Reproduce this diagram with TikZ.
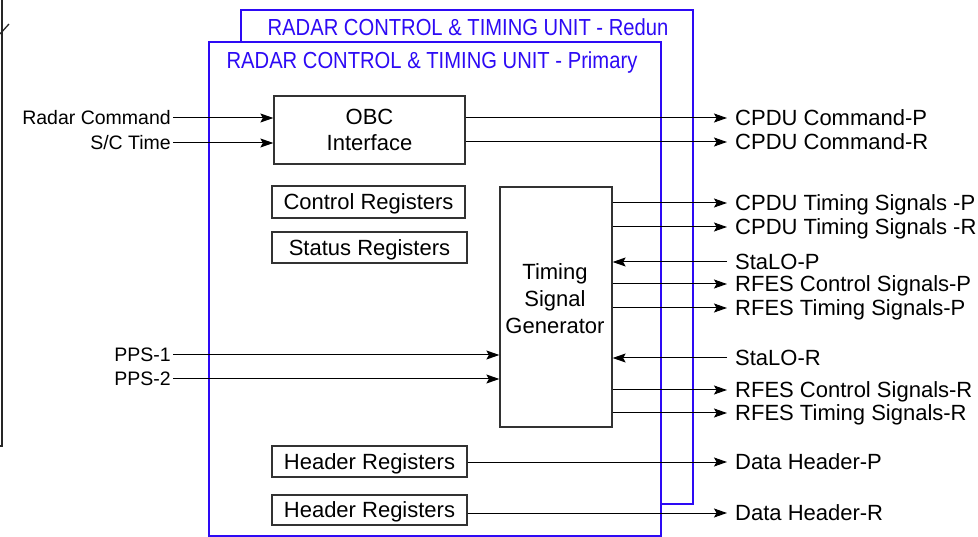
\documentclass[tikz,border=0pt]{standalone}
\usepackage{fontspec}
\usepackage{graphicx}
\setmainfont{Liberation Sans}
\usetikzlibrary{arrows.meta}
\definecolor{unitblue}{RGB}{45,10,245}
\definecolor{boxgray}{RGB}{50,50,50}
\tikzset{
  arr/.style={draw=black, line width=1pt, -{Stealth[length=13pt,width=9pt,inset=2.5pt]}},
  unitbox/.style={draw=unitblue, line width=2pt, fill=white, inner sep=0pt},
  regbox/.style={draw=boxgray, line width=1.3pt, inner sep=0pt, font=\fontsize{22}{26}\selectfont, align=center},
  onerow/.style={text height=15.8pt, text depth=0pt},
  rlabel/.style={anchor=west, inner sep=0pt, text height=15.8pt, text depth=0pt, font=\fontsize{22}{26}\selectfont},
  llabel/.style={anchor=east, inner sep=0pt, text height=14pt, text depth=0pt, font=\fontsize{19.5}{23}\selectfont},
  titletext/.style={inner sep=0pt, text=unitblue, font=\fontsize{20.2}{24}\selectfont}
}
\begin{document}
\begin{tikzpicture}[x=1pt,y=-1pt]
\useasboundingbox (0,0) rectangle (978,537);
% outer frame edge at left
\draw[line width=1.8pt, color=black!85] (2,0) -- (2,446) -- (0,446);
\draw[line width=1.3pt, color=black!85] (0,34) -- (9,24);
% unit boxes
\node[unitbox, minimum width=452pt, minimum height=494pt] (redun) at (467,257) {};
\node[unitbox, minimum width=452pt, minimum height=494pt] (prim) at (435,289) {};
\node[titletext] (redtitle) at (468,27) {\scalebox{1}[1.15]{RADAR CONTROL \& TIMING UNIT - Redun}};
\node[titletext] (primtitle) at (432,62) {\scalebox{1}[1.15]{RADAR CONTROL \& TIMING UNIT - Primary}};
% inner boxes
\node[regbox, minimum width=191pt, minimum height=68pt] (obc) at (369.5,130) {OBC\\Interface};
\node[regbox, onerow, minimum width=193pt, minimum height=32pt] (ctrl) at (368.5,202) {Control Registers};
\node[regbox, onerow, minimum width=195pt, minimum height=31pt] (stat) at (369.5,247.5) {Status Registers};
\node[regbox, minimum width=112pt, minimum height=240pt] (tsg) at (556,307) {};
\node[inner sep=0pt, align=center, font=\fontsize{22}{27}\selectfont] (tsgtext) at (555,299) {Timing\\Signal\\Generator};
\node[regbox, onerow, minimum width=195pt, minimum height=31pt] (hdr1) at (369.5,461.5) {Header Registers};
\node[regbox, onerow, minimum width=195pt, minimum height=30pt] (hdr2) at (369.5,510) {Header Registers};
% left labels
\node[llabel] (radar) at (171,118) {Radar Command};
\node[llabel] (sctime) at (171,143) {S/C Time};
\node[llabel] (pps1) at (171,355) {PPS-1};
\node[llabel] (pps2) at (171,379) {PPS-2};
% right labels
\node[rlabel] (cmdP) at (735,118) {CPDU Command-P};
\node[rlabel] (cmdR) at (735,142) {CPDU Command-R};
\node[rlabel] (timP) at (735,203) {CPDU Timing Signals -P};
\node[rlabel] (timR) at (735,227) {CPDU Timing Signals -R};
\node[rlabel] (staP) at (735,262) {StaLO-P};
\node[rlabel] (rfcP) at (735,284) {RFES Control Signals-P};
\node[rlabel] (rftP) at (735,308) {RFES Timing Signals-P};
\node[rlabel] (staR) at (735,358) {StaLO-R};
\node[rlabel] (rfcR) at (735,390) {RFES Control Signals-R};
\node[rlabel] (rftR) at (735,413) {RFES Timing Signals-R};
\node[rlabel] (dhP) at (735,462) {Data Header-P};
\node[rlabel] (dhR) at (735,513) {Data Header-R};
% inputs
\draw[arr] ([xshift=2pt]radar.east) -- (obc.west |- radar.east);
\draw[arr] ([xshift=2pt]sctime.east) -- (obc.west |- sctime.east);
\draw[arr] ([xshift=2pt]pps1.east) -- (tsg.west |- pps1.east);
\draw[arr] ([xshift=2pt]pps2.east) -- (tsg.west |- pps2.east);
% outputs
\draw[arr] (obc.east |- cmdP.west) -- ([xshift=-8pt]cmdP.west);
\draw[arr] (obc.east |- cmdR.west) -- ([xshift=-8pt]cmdR.west);
\draw[arr] (tsg.east |- timP.west) -- ([xshift=-8pt]timP.west);
\draw[arr] (tsg.east |- timR.west) -- ([xshift=-8pt]timR.west);
\draw[arr] ([xshift=-8pt]staP.west) -- (tsg.east |- staP.west);
\draw[arr] (tsg.east |- rfcP.west) -- ([xshift=-8pt]rfcP.west);
\draw[arr] (tsg.east |- rftP.west) -- ([xshift=-8pt]rftP.west);
\draw[arr] ([xshift=-8pt]staR.west) -- (tsg.east |- staR.west);
\draw[arr] (tsg.east |- rfcR.west) -- ([xshift=-8pt]rfcR.west);
\draw[arr] (tsg.east |- rftR.west) -- ([xshift=-8pt]rftR.west);
\draw[arr] (hdr1.east |- dhP.west) -- ([xshift=-8pt]dhP.west);
\draw[arr] (hdr2.east |- dhR.west) -- ([xshift=-8pt]dhR.west);
\end{tikzpicture}
\end{document}
